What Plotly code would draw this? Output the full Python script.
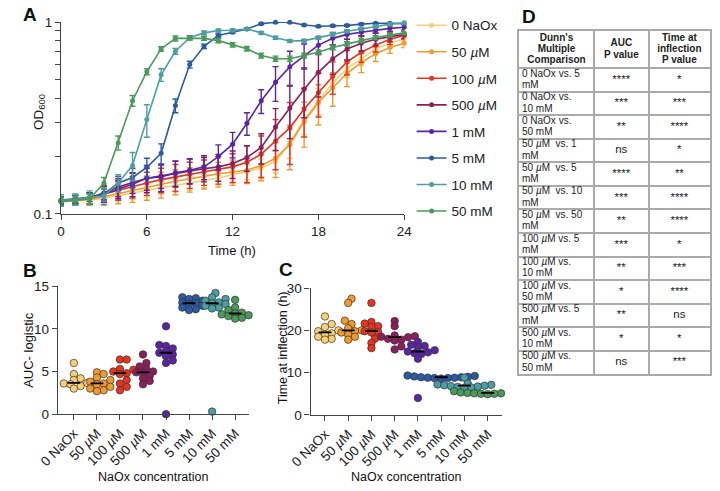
import numpy as np
import plotly.graph_objects as go

W, H = 720, 491
FONT = "Liberation Sans, Arial, Helvetica, sans-serif"
AXC = "#444444"

# ---------------- Panel A data ----------------
time_h = list(range(25))
series_names = ["0 NaOx", "50 <i>µ</i>M", "100 <i>µ</i>M", "500 <i>µ</i>M",
                "1 mM", "5 mM", "10 mM", "50 mM"]
colors = ["#F8CF75", "#F19A30", "#E8341E", "#8A1F5C",
          "#5A24A3", "#2C5AA3", "#4C9EA4", "#4A9A5B"]

od_0naox = [0.116, 0.117, 0.118, 0.121, 0.125, 0.129, 0.133, 0.137, 0.141, 0.145, 0.149, 0.154, 0.160,
            0.166, 0.173, 0.188, 0.235, 0.309, 0.389, 0.482, 0.573, 0.644, 0.724, 0.776, 0.819]
sd_0naox = [0.004, 0.004, 0.005, 0.006, 0.008, 0.010, 0.010, 0.010, 0.010, 0.012, 0.012, 0.012, 0.015,
            0.015, 0.020, 0.025, 0.040, 0.050, 0.060, 0.060, 0.060, 0.050, 0.040, 0.040, 0.030]
od_50um = [0.116, 0.117, 0.119, 0.123, 0.128, 0.133, 0.138, 0.143, 0.148, 0.152, 0.157, 0.162, 0.166,
           0.169, 0.179, 0.195, 0.230, 0.303, 0.381, 0.454, 0.541, 0.615, 0.683, 0.737, 0.776]
sd_50um = [0.005, 0.006, 0.008, 0.012, 0.015, 0.018, 0.020, 0.022, 0.022, 0.022, 0.022, 0.024, 0.025,
           0.025, 0.030, 0.040, 0.060, 0.080, 0.090, 0.090, 0.080, 0.070, 0.060, 0.050, 0.040]
od_100um = [0.117, 0.119, 0.121, 0.127, 0.133, 0.139, 0.145, 0.151, 0.156, 0.161, 0.166, 0.171, 0.176,
            0.186, 0.205, 0.240, 0.281, 0.352, 0.430, 0.520, 0.620, 0.696, 0.758, 0.813, 0.851]
sd_100um = [0.005, 0.006, 0.008, 0.012, 0.015, 0.018, 0.020, 0.022, 0.025, 0.025, 0.025, 0.028, 0.030,
            0.040, 0.050, 0.070, 0.100, 0.100, 0.110, 0.100, 0.090, 0.080, 0.060, 0.050, 0.040]
od_500um = [0.117, 0.119, 0.121, 0.129, 0.138, 0.146, 0.153, 0.158, 0.163, 0.168, 0.172, 0.176, 0.183,
            0.197, 0.222, 0.284, 0.357, 0.447, 0.547, 0.644, 0.724, 0.776, 0.813, 0.838, 0.862]
sd_500um = [0.005, 0.006, 0.008, 0.012, 0.015, 0.018, 0.020, 0.022, 0.025, 0.025, 0.025, 0.028, 0.030,
            0.030, 0.040, 0.070, 0.110, 0.130, 0.140, 0.110, 0.090, 0.070, 0.060, 0.050, 0.040]
od_1mm = [0.117, 0.119, 0.121, 0.127, 0.135, 0.143, 0.154, 0.156, 0.164, 0.169, 0.176, 0.199, 0.231,
          0.297, 0.389, 0.486, 0.584, 0.669, 0.758, 0.822, 0.862, 0.885, 0.906, 0.927, 0.940]
sd_1mm = [0.005, 0.006, 0.008, 0.012, 0.015, 0.020, 0.025, 0.025, 0.025, 0.025, 0.025, 0.030, 0.035,
          0.040, 0.055, 0.100, 0.120, 0.100, 0.080, 0.060, 0.050, 0.040, 0.030, 0.030, 0.030]
od_5mm = [0.118, 0.120, 0.122, 0.127, 0.145, 0.155, 0.175, 0.207, 0.367, 0.600, 0.747, 0.851, 0.885,
          0.920, 0.979, 0.998, 0.998, 0.965, 0.950, 0.955, 0.960, 0.975, 0.985, 0.985, 0.980]
sd_5mm = [0.005, 0.005, 0.006, 0.008, 0.012, 0.018, 0.020, 0.025, 0.030, 0.025, 0.020, 0.015, 0.012,
          0.010, 0.010, 0.010, 0.010, 0.010, 0.010, 0.010, 0.010, 0.010, 0.010, 0.010, 0.010]
od_10mm = [0.118, 0.119, 0.122, 0.124, 0.145, 0.179, 0.311, 0.531, 0.704, 0.829, 0.878, 0.903, 0.906,
           0.920, 0.878, 0.829, 0.797, 0.800, 0.829, 0.862, 0.896, 0.920, 0.949, 0.975, 0.990]
sd_10mm = [0.008, 0.008, 0.010, 0.012, 0.015, 0.030, 0.060, 0.040, 0.025, 0.020, 0.020, 0.015, 0.015,
           0.015, 0.015, 0.015, 0.012, 0.012, 0.015, 0.015, 0.015, 0.015, 0.015, 0.015, 0.015]
od_50mm = [0.116, 0.118, 0.120, 0.145, 0.235, 0.389, 0.551, 0.724, 0.822, 0.825, 0.822, 0.800, 0.761,
           0.726, 0.669, 0.644, 0.644, 0.669, 0.696, 0.737, 0.770, 0.800, 0.830, 0.855, 0.878]
sd_50mm = [0.006, 0.006, 0.007, 0.010, 0.020, 0.025, 0.020, 0.020, 0.025, 0.020, 0.020, 0.020, 0.020,
           0.020, 0.020, 0.020, 0.020, 0.020, 0.020, 0.020, 0.020, 0.020, 0.020, 0.020, 0.020]

od_series = [od_0naox, od_50um, od_100um, od_500um, od_1mm, od_5mm, od_10mm, od_50mm]
sd_series = [sd_0naox, sd_50um, sd_100um, sd_500um, sd_1mm, sd_5mm, sd_10mm, sd_50mm]

# ---------------- Panel B / C data ----------------
cat_labels = ["0 NaOx", "50 <i>µ</i>M", "100 <i>µ</i>M", "500 <i>µ</i>M",
              "1 mM", "5 mM", "10 mM", "50 mM"]
auc_values = [
    [6.0, 4.7, 4.2, 4.0, 3.7, 3.65, 3.6, 3.5, 3.3, 3.0],
    [4.9, 4.7, 4.3, 4.0, 3.8, 3.6, 3.5, 3.2, 3.0, 2.8, 2.7],
    [6.4, 6.4, 5.3, 5.2, 5.0, 4.8, 4.7, 4.0, 3.6, 3.2, 2.8],
    [7.0, 6.0, 5.6, 5.3, 5.0, 4.9, 4.8, 4.5, 4.2, 3.9, 3.5],
    [10.3, 8.1, 8.0, 7.7, 7.4, 7.2, 7.0, 6.8, 6.3, 6.0, 0.0],
    [13.7, 13.6, 13.5, 13.3, 13.1, 13.0, 12.9, 12.7, 12.5, 12.3, 12.2],
    [14.2, 13.7, 13.5, 13.3, 13.1, 13.0, 12.9, 12.7, 12.5, 12.4, 0.3],
    [13.4, 12.5, 12.2, 12.0, 11.9, 11.8, 11.7, 11.6, 11.5, 11.3, 11.2],
]
tinf_values = [
    [23.3, 21.5, 20.8, 20.0, 19.8, 19.3, 19.0, 18.5, 18.0, 17.8],
    [27.5, 26.5, 22.3, 21.5, 20.5, 20.0, 19.8, 19.5, 19.0, 18.5, 17.8],
    [26.5, 22.0, 21.6, 21.0, 20.8, 19.8, 19.6, 19.5, 18.0, 17.0, 15.8],
    [22.2, 21.0, 18.8, 18.6, 18.5, 18.4, 18.0, 17.8, 17.6, 16.2, 15.5],
    [17.3, 16.6, 16.3, 16.0, 15.3, 15.0, 14.8, 14.6, 14.4, 13.3, 4.0],
    [9.3, 9.2, 9.1, 9.0, 8.9, 8.9, 8.8, 8.8, 8.7, 8.7, 8.6],
    [8.8, 7.4, 7.2, 7.1, 7.0, 6.9, 6.8, 6.7, 6.6, 6.5, 6.4],
    [5.6, 5.4, 5.3, 5.3, 5.2, 5.2, 5.1, 5.1, 5.0, 5.0, 4.9],
]

# ---------------- Table D data ----------------
tbl_header = ["<b>Dunn's<br>Multiple<br>Comparison</b>", "<b>AUC<br>P value</b>",
              "<b>Time at<br>inflection<br>P value</b>"]
tbl_comparison = ["0 NaOx vs. 5<br>mM", "0 NaOx vs.<br>10 mM", "0 NaOx vs.<br>50 mM",
                  "50 <i>µ</i>M  vs. 1<br>mM", "50 <i>µ</i>M  vs. 5<br>mM", "50 <i>µ</i>M  vs. 10<br>mM",
                  "50 <i>µ</i>M  vs. 50<br>mM", "100 <i>µ</i>M vs. 5<br>mM", "100 <i>µ</i>M vs.<br>10 mM",
                  "100 <i>µ</i>M vs.<br>50 mM", "500 <i>µ</i>M vs. 5<br>mM", "500 <i>µ</i>M vs.<br>10 mM",
                  "500 <i>µ</i>M vs.<br>50 mM"]
tbl_auc_p = ["****", "***", "**", "ns", "****", "***", "**", "***", "**", "*", "**", "*", "ns"]
tbl_tinf_p = ["*", "***", "****", "*", "**", "****", "****", "*", "***", "****", "ns", "*", "***"]

# ---------------- layout geometry (pixels) ----------------
A_x = (41.7, 399.3); A_y = (15.5, 213.5)
B_x = (38.3, 238.0); B_y = (288.0, 420.0)
C_x = (301.7, 501.7); C_y = (290.0, 420.7)
B_xr = [-0.7, 7.62]; C_xr = [-0.62, 7.64]
B_yr = [0, 15]; C_yr = [0, 30]
T_x = (519.0, 718.0); T_top = 25.0
col_w = [78, 57, 64]
header_h, row_h, line_gap = 38.0, 24.3, 11.7


def px_dom_x(a):
    return [a[0] / W, a[1] / W]


def px_dom_y(a):
    return [1 - a[1] / H, 1 - a[0] / H]


def swarm(vals, ppu_x, ppu_y, d=7.0, overlap=0.72):
    vals = np.asarray(vals, float)
    order = np.argsort(vals)
    placed = []
    offs = np.zeros(len(vals))
    for i in order:
        y = vals[i] * ppu_y
        k = 0
        while True:
            step = (k + 1) // 2 * (0.5 * d)
            cand = step if k % 2 == 1 else -step
            if all((cand - px) ** 2 + (y - py) ** 2 >= (overlap * d) ** 2 for px, py in placed):
                break
            k += 1
        placed.append((cand, y))
        offs[i] = cand / ppu_x
    return offs


def split_lines(texts, xs, ys, bold=False):
    """Split multi-line cell texts into individually positioned lines."""
    ox, oy, ot = [], [], []
    for t, x, y in zip(texts, xs, ys):
        t = t.replace("<b>", "").replace("</b>", "")
        parts = t.split("<br>")
        n = len(parts)
        for k, p in enumerate(parts):
            ox.append(x)
            oy.append(y + (k - (n - 1) / 2) * line_gap)
            ot.append("<b>%s</b>" % p if bold else p)
    return ox, oy, ot


fig = go.Figure()

# Panel A
for name, col, od, sd in zip(series_names, colors, od_series, sd_series):
    fig.add_trace(go.Scatter(
        x=time_h, y=od, name=name, legendgroup=name, mode="lines+markers",
        line=dict(color=col, width=1.6), marker=dict(color=col, size=5),
        error_y=dict(type="data", array=sd, color=col, thickness=1.4, width=3),
        cliponaxis=False, xaxis="x", yaxis="y"))

# Panels B and C
for vals_list, xr, xa, ya, xpx, ypx, yr in [
        (auc_values, B_xr, "x2", "y2", B_x, B_y, B_yr),
        (tinf_values, C_xr, "x3", "y3", C_x, C_y, C_yr)]:
    ppu_x = (xpx[1] - xpx[0]) / (xr[1] - xr[0])
    ppu_y = (ypx[1] - ypx[0]) / (yr[1] - yr[0])
    mx, my = [], []
    for i, (vals, col) in enumerate(zip(vals_list, colors)):
        offs = swarm(vals, ppu_x, ppu_y)
        fig.add_trace(go.Scatter(
            x=i + offs, y=vals, mode="markers", showlegend=False,
            marker=dict(color=col, size=7.5, line=dict(color="#333333", width=0.7)),
            cliponaxis=False, xaxis=xa, yaxis=ya))
        m = float(np.median(vals))
        mx += [i - 0.28, i + 0.28, None]
        my += [m, m, None]
    fig.add_trace(go.Scatter(x=mx, y=my, mode="lines", showlegend=False,
                             line=dict(color="black", width=1.8),
                             cliponaxis=False, xaxis=xa, yaxis=ya))

# Table D, drawn on its own axis pair (grid lines = cell borders)
n_rows = len(tbl_comparison)
col_edges = np.concatenate([[0.0], np.cumsum(col_w)])
col_mid = (col_edges[:-1] + col_edges[1:]) / 2
row_edges = np.concatenate([[0.0], header_h + row_h * np.arange(n_rows + 1)])
row_mid = header_h + row_h * (np.arange(n_rows) + 0.5)
tbl_h = row_edges[-1]

hx, hy, ht = split_lines(tbl_header, list(col_mid), [header_h / 2] * 3, bold=True)
fig.add_trace(go.Scatter(
    x=hx, y=hy, text=ht, mode="text", textposition="middle center", showlegend=False,
    hoverinfo="skip", textfont=dict(family=FONT, size=10, color="#222222"), xaxis="x4", yaxis="y4"))
cx, cy, ct = split_lines(tbl_comparison, [col_edges[0] + 3] * n_rows, list(row_mid))
fig.add_trace(go.Scatter(
    x=cx, y=cy, text=ct, mode="text", textposition="middle right", showlegend=False,
    hoverinfo="skip", textfont=dict(family=FONT, size=10, color="#222222"), xaxis="x4", yaxis="y4"))
for j, colvals in [(1, tbl_auc_p), (2, tbl_tinf_p)]:
    fig.add_trace(go.Scatter(
        x=[col_mid[j]] * n_rows, y=list(row_mid), text=colvals, mode="text",
        textposition="middle center", showlegend=False, hoverinfo="skip",
        textfont=dict(family=FONT, size=11.5, color="#222222"), xaxis="x4", yaxis="y4"))

axis_common = dict(showline=True, linecolor=AXC, linewidth=1.3, ticks="outside", ticklen=5,
                   tickcolor=AXC, tickwidth=1.2, showgrid=False, zeroline=False,
                   tickfont=dict(family=FONT, size=13.5, color="#222222"))
tbl_axis = dict(showline=True, mirror=True, linecolor="#AAAAAA", linewidth=2, showgrid=True,
                gridcolor="#AAAAAA", gridwidth=2, zeroline=False, showticklabels=False,
                ticks="", fixedrange=True)

od_ticks = [0.1, 0.2, 0.3, 0.4, 0.5, 0.6, 0.7, 0.8, 0.9, 1.0]
od_ticktext = ["0.1", "", "", "", "", "", "", "", "", "1"]

fig.update_layout(
    width=W, height=H, autosize=False,
    margin=dict(l=0, r=0, t=0, b=0),
    paper_bgcolor="white", plot_bgcolor="white",
    font=dict(family=FONT, size=13, color="#222222"),
    showlegend=True,
    legend=dict(x=407 / W, y=1 - 3 / H, xanchor="left", yanchor="top",
                font=dict(family=FONT, size=13.5, color="#222222"),
                tracegroupgap=6, bgcolor="rgba(0,0,0,0)"),
    xaxis=dict(domain=px_dom_x(A_x), range=[0, 24], tickvals=[0, 6, 12, 18, 24],
               anchor="y", **axis_common),
    yaxis=dict(domain=px_dom_y(A_y), type="log", range=[-1, 0], tickvals=od_ticks,
               ticktext=od_ticktext, anchor="x", **axis_common),
    xaxis2=dict(domain=px_dom_x(B_x), range=B_xr, tickvals=list(range(8)), ticktext=cat_labels,
                tickangle=-45, anchor="y2", **axis_common),
    yaxis2=dict(domain=px_dom_y(B_y), range=B_yr, tickvals=[0, 5, 10, 15], anchor="x2", **axis_common),
    xaxis3=dict(domain=px_dom_x(C_x), range=C_xr, tickvals=list(range(8)), ticktext=cat_labels,
                tickangle=-45, anchor="y3", **axis_common),
    yaxis3=dict(domain=px_dom_y(C_y), range=C_yr, tickvals=[0, 10, 20, 30], anchor="x3", **axis_common),
    xaxis4=dict(domain=px_dom_x(T_x), range=[0, col_edges[-1]], tickvals=list(col_edges),
                anchor="y4", **tbl_axis),
    yaxis4=dict(domain=px_dom_y((T_top, T_top + tbl_h)), range=[tbl_h, 0], tickvals=list(row_edges),
                anchor="x4", **tbl_axis),
)


def ann(text, xpx, ypx, size=13, angle=0, xanchor="center", bold=False):
    fig.add_annotation(text=("<b>%s</b>" % text) if bold else text, x=xpx / W, y=1 - ypx / H,
                       xref="paper", yref="paper", showarrow=False, textangle=angle,
                       xanchor=xanchor, yanchor="middle",
                       font=dict(family=FONT, size=size, color="#111111"))


ann("A", 0, 8, size=19, xanchor="left", bold=True)
ann("B", 0, 272, size=19, xanchor="left", bold=True)
ann("C", 267, 271, size=19, xanchor="left", bold=True)
ann("D", 520, 10, size=19, xanchor="left", bold=True)
ann("OD<sub>600</sub>", 19, 108, size=13.5, angle=-90)
ann("Time (h)", 220, 251, size=13)
ann("AUC- logistic", 8, 354, size=13, angle=-90)
ann("Time at inflection (h)", 273, 352, size=12.5, angle=-90)
ann("NaOx concentration", 138, 485, size=12.5)
ann("NaOx concentration", 402, 485, size=12.5)

fig.write_html("out.html", config={"displayModeBar": False},
               post_script="document.body.style.margin='0';")
